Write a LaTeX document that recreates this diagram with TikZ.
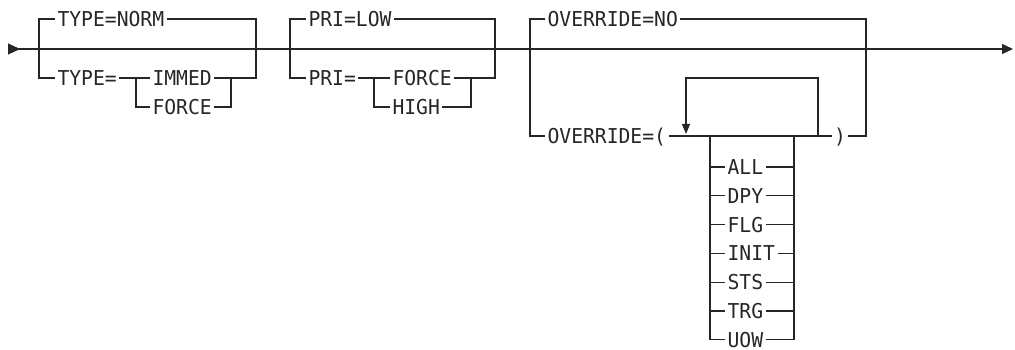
\documentclass[tikz,border=0pt]{standalone}
\usepackage{fontspec}
\newfontfamily\railfont[FakeStretch=0.96]{DejaVu Sans Mono}
\usetikzlibrary{positioning,arrows.meta,calc}
\begin{document}
\begin{tikzpicture}[x=1pt,y=-1pt,black!85,line width=1.1pt,
  kw/.style={anchor=west,inner xsep=2pt,inner ysep=0pt,text height=15pt,text depth=0pt,
    font=\railfont\fontsize{20.5pt}{22pt}\selectfont},
  loopend/.style={-{Triangle[length=10pt,width=8pt]},shorten >=2pt}]
\useasboundingbox (0,0) rectangle (1015,350);
% main line
\coordinate (s) at (8,49); \coordinate (e) at (1013,49);
\draw[{Triangle[reversed,length=12pt,width=11pt]}-{Triangle[length=11pt,width=10pt]}] (s) -- (e);
% TYPE
\coordinate (l1) at (39,78); \coordinate (r1) at (256,78);
\coordinate (m1) at (136,78); \coordinate (n1) at (231,78);
\node[kw] (norm) at (55,19) {TYPE=NORM};
\node[kw] (type) at (55,78) {TYPE=};
\node[kw] (immed) at (150,78) {IMMED};
\node[kw] (force1) at (150,107) {FORCE};
\draw (norm.west) -| (l1) -- (type.west) (type.east) -- (m1) -- (immed.west) (immed.east) -- (r1) |- (norm.east);
\draw (m1) |- (force1.west) (force1.east) -| (n1);
% PRI
\coordinate (l2) at (290,78); \coordinate (r2) at (495,78);
\coordinate (m2) at (374,78); \coordinate (n2) at (471,78);
\node[kw] (low) at (306,19) {PRI=LOW};
\node[kw] (pri) at (306,78) {PRI=};
\node[kw] (force2) at (390,78) {FORCE};
\node[kw] (high) at (390,107) {HIGH};
\draw (low.west) -| (l2) -- (pri.west) (pri.east) -- (m2) -- (force2.west) (force2.east) -- (r2) |- (low.east);
\draw (m2) |- (high.west) (high.east) -| (n2);
% OVERRIDE
\coordinate (l3) at (530,136); \coordinate (r3) at (866,136);
\coordinate (lp) at (686,136); \coordinate (rp) at (818,136);
\coordinate (cl) at (710,136); \coordinate (cr) at (794,136);
\node[kw] (ovno) at (545,19) {OVERRIDE=NO};
\node[kw] (ovpar) at (545,136) {OVERRIDE=(};
\node[kw,anchor=center] (close) at (840,136) {)};
\draw (ovno.west) -| (l3) -- (ovpar.west) (ovpar.east) -- (close.west) (close.east) -- (r3) |- (ovno.east);
\draw[loopend] (rp) |- ($(lp)+(0,-58)$) -- (lp);
\foreach \w [count=\i] in {ALL,DPY,FLG,INIT,STS,TRG,UOW}
  \node[kw] (o\i) at (725,{167+28.8*(\i-1)}) {\w};
\foreach \i in {1,...,6}
  \draw (cl |- o\i.west) -- (o\i.west) (o\i.east) -- (cr |- o\i.east);
\draw (cl) |- (o7.west) (o7.east) -| (cr);
\end{tikzpicture}
\end{document}
